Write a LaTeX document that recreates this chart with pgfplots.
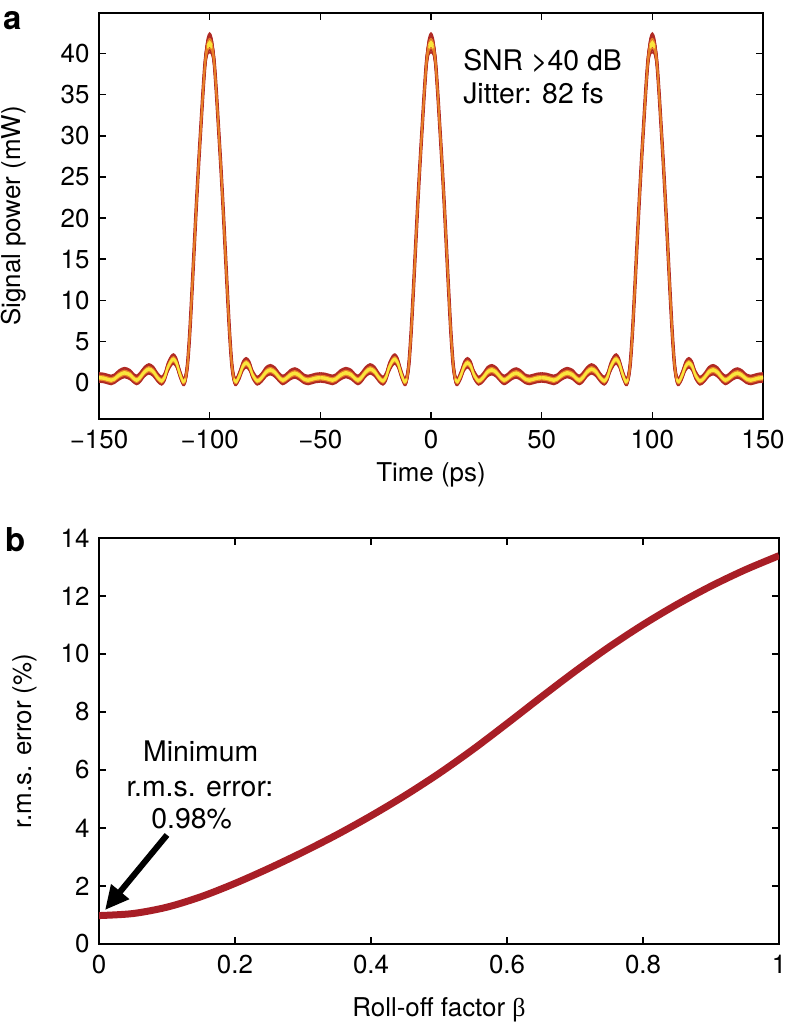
\documentclass[border=0pt]{standalone}
\usepackage{fontspec}
\setmainfont{TeX Gyre Heros}
\newfontfamily\greekserif{Liberation Serif}
\usepackage{pgfplots}
\pgfplotsset{compat=1.18}
\usepackage{pgfplotstable}
\usetikzlibrary{arrows.meta}

\definecolor{dred}{RGB}{176,42,36}
\definecolor{orng}{RGB}{232,128,40}
\definecolor{yell}{RGB}{250,230,60}
\definecolor{curvered}{RGB}{168,30,38}

% one 100-ps period of the measured pulse train (offset d from a peak):
% band centre c, half-width w, centre of the bright core cy (nan on the steep flanks)
\pgfplotstableread{
d c w cy
-50 0.6 0.55 0.6
-48 0.55 0.55 0.55
-46 0.4 0.55 0.4
-44.5 0.3 0.55 0.3
-43 0.45 0.55 0.45
-41 0.9 0.6 0.9
-38.5 1.2 0.6 1.2
-36 0.95 0.6 0.95
-34.5 0.55 0.55 0.55
-33 0.3 0.55 0.3
-31.5 0.6 0.6 0.6
-29.5 1.3 0.6 1.3
-27.5 1.65 0.6 1.65
-25.5 1.35 0.6 1.35
-23.5 0.6 0.55 0.6
-21.7 0.2 0.5 0.2
-20.3 0.7 0.55 0.7
-19 1.8 0.6 1.8
-17.5 2.6 0.6 2.6
-16.3 2.85 0.6 2.85
-15 2.4 0.6 2.4
-13.5 1.1 0.55 1.1
-12 0.1 0.45 0.1
-11 0.4 0.5 0.4
-10 2.2 0.6 nan
-9 6 0.6 nan
-8 11 0.6 nan
-7 16.3 0.6 nan
-6 21.6 0.6 nan
-5 26.5 0.6 nan
-4 31 0.6 nan
-3 35.4 0.7 nan
-2 39.1 0.8 nan
-1 40.9 1.0 40.9
0 41.3 1.2 41.3
1 40.9 1.0 40.9
2 39.1 0.8 nan
3 35.4 0.7 nan
4 31 0.6 nan
5 26.5 0.6 nan
6 21.6 0.6 nan
7 16.3 0.6 nan
8 11 0.6 nan
9 6 0.6 nan
10 2.2 0.6 nan
11 0.4 0.5 0.4
12 0.1 0.45 0.1
13.5 0.9 0.55 0.9
15 2.0 0.6 2.0
16.5 2.4 0.6 2.4
18 2.0 0.6 2.0
19.5 0.9 0.55 0.9
21.5 0.2 0.5 0.2
23.5 0.6 0.55 0.6
25.5 1.3 0.6 1.3
27.5 1.55 0.6 1.55
29.5 1.25 0.6 1.25
31.5 0.6 0.55 0.6
33 0.3 0.55 0.3
34.5 0.5 0.55 0.5
36.5 0.95 0.6 0.95
38.5 1.15 0.6 1.15
40.5 0.9 0.6 0.9
42.5 0.45 0.55 0.45
44.5 0.3 0.55 0.3
46 0.4 0.55 0.4
48 0.55 0.55 0.55
50 0.6 0.55 0.6
}\period

\pgfplotstableread{
x y
0 0.98
0.05 1.05
0.1 1.27
0.15 1.63
0.2 2.09
0.25 2.61
0.3 3.17
0.35 3.77
0.4 4.42
0.45 5.12
0.5 5.88
0.55 6.71
0.6 7.60
0.65 8.51
0.7 9.40
0.75 10.24
0.8 11.01
0.85 11.71
0.9 12.34
0.95 12.90
1.0 13.39
}\rms

\pgfplotsset{
  myaxis/.style={
    scale only axis,
    axis line style={line width=1.5bp},
    every tick/.style={line width=1.3bp, black},
    major tick length=7bp,
    tick label style={font=\fontsize{26}{31}\selectfont},
    label style={font=\fontsize{26}{31}\selectfont},
    /pgf/number format/assume math mode=true,
    xticklabel style={yshift=-8bp},
    yticklabel style={xshift=-6bp},
  },
  band/.style={smooth, line width=1.6bp, forget plot, unbounded coords=jump},
}

\begin{document}
\begin{tikzpicture}
% ---------------- panel a ----------------
\begin{axis}[myaxis,
  at={(99bp,610bp)}, anchor=south west,
  width=664bp, height=406bp,
  xmin=-150, xmax=150, ymin=-4.45, ymax=44.95,
  xtick={-150,-100,-50,0,50,100,150},
  xticklabels={−150,−100,−50,0,50,100,150},
  ytick={0,5,10,15,20,25,30,35,40},
  xlabel={Time (ps)}, ylabel={Signal power (mW)},
  xlabel style={at={(axis description cs:0.5,-0.138)}, anchor=center},
  ylabel style={at={(axis description cs:-0.128,0.5)}, anchor=center},
]
% centre trace (gives the steep flanks their width)
\addplot[band, draw=dred, line width=3.4bp] table[x expr=\thisrow{d}-100, y=c]{\period};
\addplot[band, draw=dred, line width=3.4bp] table[x expr=\thisrow{d}, y=c]{\period};
\addplot[band, draw=dred, line width=3.4bp] table[x expr=\thisrow{d}+100, y=c]{\period};
% outer dark-red band
\pgfplotsinvokeforeach{-1,-0.8,-0.6,-0.4,-0.2,0,0.2,0.4,0.6,0.8,1}{
  \addplot[band, draw=dred] table[x expr=\thisrow{d}-100, y expr=\thisrow{c}+(#1)*\thisrow{w}]{\period};
  \addplot[band, draw=dred] table[x expr=\thisrow{d}, y expr=\thisrow{c}+(#1)*\thisrow{w}]{\period};
  \addplot[band, draw=dred] table[x expr=\thisrow{d}+100, y expr=\thisrow{c}+(#1)*\thisrow{w}]{\period};
}
% orange band
\pgfplotsinvokeforeach{-0.55,-0.35,-0.15,0.05,0.25,0.45}{
  \addplot[band, draw=orng, line width=1.3bp] table[x expr=\thisrow{d}-100, y expr=\thisrow{c}+(#1)*\thisrow{w}]{\period};
  \addplot[band, draw=orng, line width=1.3bp] table[x expr=\thisrow{d}, y expr=\thisrow{c}+(#1)*\thisrow{w}]{\period};
  \addplot[band, draw=orng, line width=1.3bp] table[x expr=\thisrow{d}+100, y expr=\thisrow{c}+(#1)*\thisrow{w}]{\period};
}
% yellow core
\pgfplotsinvokeforeach{-0.25,-0.05,0.15}{
  \addplot[band, draw=yell] table[x expr=\thisrow{d}-100, y expr=\thisrow{cy}+(#1)*\thisrow{w}]{\period};
  \addplot[band, draw=yell] table[x expr=\thisrow{d}, y expr=\thisrow{cy}+(#1)*\thisrow{w}]{\period};
  \addplot[band, draw=yell] table[x expr=\thisrow{d}+100, y expr=\thisrow{cy}+(#1)*\thisrow{w}]{\period};
}
\node[anchor=base west, inner sep=0, font=\fontsize{28.5}{34}\selectfont] at (axis cs:14.5,38.0) {SNR >40 dB};
\node[anchor=base west, inner sep=0, font=\fontsize{28.5}{34}\selectfont] at (axis cs:14.5,33.9) {Jitter: 82 fs};
\end{axis}

% ---------------- panel b ----------------
\begin{axis}[myaxis,
  at={(99bp,85bp)}, anchor=south west,
  width=680bp, height=406bp,
  xmin=0, xmax=1, ymin=0, ymax=14,
  xtick={0,0.2,0.4,0.6,0.8,1},
  xticklabels={0,0.2,0.4,0.6,0.8,1},
  ytick={0,2,4,6,8,10,12,14},
  xlabel={Roll-off factor {\greekserif β}}, ylabel={r.m.s. error (\%)},
  xlabel style={at={(axis description cs:0.5,-0.163)}, anchor=center},
  ylabel style={at={(axis description cs:-0.109,0.5)}, anchor=center},
]
\addplot[curvered, line width=7bp, smooth] table{\rms};
\draw[line width=6bp, -{Triangle[length=24bp,width=22bp]}] (axis cs:0.1,3.76) -- (axis cs:0.0088,1.17);
\node[anchor=base, inner sep=0, font=\fontsize{28.5}{34}\selectfont] at (axis cs:0.1496,6.28) {Minimum};
\node[anchor=base, inner sep=0, font=\fontsize{28.5}{34}\selectfont] at (axis cs:0.1485,5.10) {r.m.s. error:};
\node[anchor=base, inner sep=0, font=\fontsize{28.5}{34}\selectfont] at (axis cs:0.1363,3.97) {0.98\%};
\end{axis}

\node[anchor=base west, inner sep=0, font=\fontsize{33}{40}\selectfont\bfseries] at (3bp,999bp) {a};
\node[anchor=base west, inner sep=0, font=\fontsize{33}{40}\selectfont\bfseries] at (5bp,477bp) {b};

\pgfresetboundingbox
\path[use as bounding box] (0,0) rectangle (788bp,1029bp);
\end{tikzpicture}
\end{document}
